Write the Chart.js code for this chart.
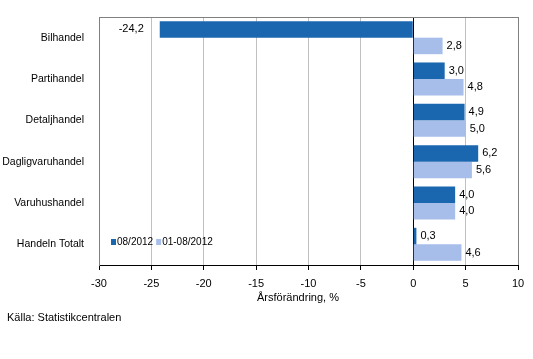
<!DOCTYPE html>
<html>
<head>
<meta charset="utf-8">
<script src="https://cdn.jsdelivr.net/npm/chart.js@4/dist/chart.umd.min.js"></script>
<style>
  html, body { margin: 0; padding: 0; background: #fff; }
  #wrap { width: 533px; height: 359px; position: relative; }
</style>
</head>
<body>
<div id="wrap"><canvas id="chart"></canvas></div>
<script>
// data
const categories = ['Bilhandel', 'Partihandel', 'Detaljhandel', 'Dagligvaruhandel', 'Varuhushandel', 'Handeln Totalt'];
const month = [-24.2, 3.0, 4.9, 6.2, 4.0, 0.3];
const period = [2.8, 4.8, 5.0, 5.6, 4.0, 4.6];
const seriesNames = ['08/2012', '01-08/2012'];
const xTicks = { min: -30, max: 10, step: 5 };

const DARK = '#1a67b0';
const LIGHT = '#a7bdea';
const FONT = '"Liberation Sans", Arial, sans-serif';
const fmt = v => v.toFixed(1).replace('.', ',');

// value labels next to the bar ends
const valueLabels = {
    id: 'valueLabels',
    afterDatasetsDraw(chart) {
        const ctx = chart.ctx;
        ctx.save();
        ctx.font = '11px ' + FONT;
        ctx.fillStyle = '#000';
        ctx.textBaseline = 'middle';
        chart.data.datasets.forEach((ds, i) => {
            chart.getDatasetMeta(i).data.forEach((bar, j) => {
                const v = ds.data[j];
                if (v < 0) {
                    ctx.textAlign = 'right';
                    ctx.fillText(fmt(v), bar.x - 16, bar.y);
                } else {
                    ctx.textAlign = 'left';
                    ctx.fillText(fmt(v), bar.x + 4, bar.y);
                }
            });
        });
        ctx.restore();
    }
};

// frame, legend inside plot, axis title, source
const extras = {
    id: 'extras',
    afterDraw(chart) {
        const ctx = chart.ctx;
        const a = chart.chartArea;
        ctx.save();
        ctx.strokeStyle = '#808080';
        ctx.lineWidth = 1;
        ctx.beginPath();
        ctx.moveTo(a.left, a.top + 0.5);
        ctx.lineTo(a.right + 0.5, a.top + 0.5);
        ctx.lineTo(a.right + 0.5, a.bottom);
        ctx.stroke();

        // legend
        ctx.font = '10px ' + FONT;
        ctx.textBaseline = 'middle';
        ctx.textAlign = 'left';
        let x = a.left + 12;
        const y = a.bottom - 23;
        chart.data.datasets.forEach(ds => {
            ctx.fillStyle = ds.backgroundColor;
            ctx.fillRect(x, y - 3, 5, 6);
            x += 6;
            ctx.fillStyle = '#000';
            ctx.fillText(ds.label, x, y);
            x += ctx.measureText(ds.label).width + 3;
        });

        ctx.font = '11px ' + FONT;
        ctx.textAlign = 'center';
        ctx.fillText('Årsförändring, %', 298, 298);
        ctx.textAlign = 'left';
        ctx.fillText('Källa: Statistikcentralen', 7, 318);
        ctx.restore();
    }
};

new Chart(document.getElementById('chart'), {
    type: 'bar',
    data: {
        labels: categories,
        datasets: [
            { label: seriesNames[0], data: month, backgroundColor: DARK, categoryPercentage: 0.8, barPercentage: 1 },
            { label: seriesNames[1], data: period, backgroundColor: LIGHT, categoryPercentage: 0.8, barPercentage: 1 }
        ]
    },
    options: {
        indexAxis: 'y',
        responsive: true,
        maintainAspectRatio: false,
        animation: false,
        layout: { padding: { top: 17, right: 15, left: 0, bottom: 0 } },
        plugins: { legend: { display: false }, tooltip: { enabled: false } },
        scales: {
            x: {
                min: xTicks.min, max: xTicks.max,
                afterFit: s => { s.height = 94; },
                ticks: { stepSize: xTicks.step, color: '#000', font: { family: FONT, size: 11 }, padding: 7 },
                grid: {
                    color: c => c.tick.value === 0 ? '#000' : (c.tick.value === xTicks.max || c.tick.value === xTicks.min ? '#808080' : '#c0c0c0'),
                    tickColor: '#000', tickLength: 5, drawOnChartArea: true
                },
                border: { color: '#000' }
            },
            y: {
                afterFit: s => { s.width = 99; },
                ticks: { color: '#000', font: { family: FONT, size: 10.5 }, padding: 7 },
                grid: { display: false },
                border: { color: '#808080' }
            }
        }
    },
    plugins: [valueLabels, extras]
});
</script>
</body>
</html>
